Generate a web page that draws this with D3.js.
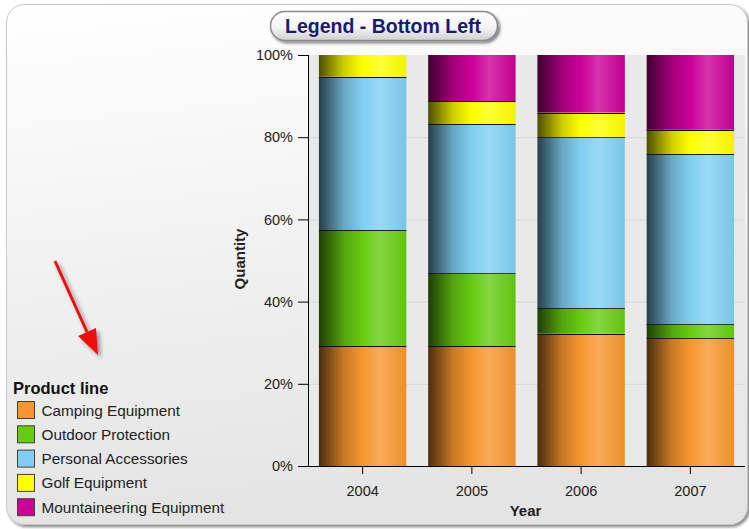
<!DOCTYPE html>
<html>
<head>
<meta charset="utf-8">
<script src="https://cdn.jsdelivr.net/npm/d3@7"></script>
<style>
  body { margin: 0; background: #ffffff; }
  svg { display: block; font-family: "Liberation Sans", Arial, sans-serif; }
</style>
</head>
<body>
<div id="chart"></div>
<script>
const WIDTH = 749, HEIGHT = 529;
const years = ["2004", "2005", "2006", "2007"];
const productLines = ["Camping Equipment", "Outdoor Protection", "Personal Accessories", "Golf Equipment", "Mountaineering Equipment"];
// share of quantity per year, in percent
const camping = [29.2, 29.2, 32.2, 31.1];
const outdoor = [28.2, 17.7, 6.2, 3.4];
const personal = [37.3, 36.3, 41.6, 41.4];
const golf = [5.3, 5.6, 6.0, 5.9];
const mountaineering = [0, 11.2, 14.0, 18.2];
const yTicks = [0, 20, 40, 60, 80, 100];

const seriesValues = [camping, outdoor, personal, golf, mountaineering];
const baseColors = ["#f7962e", "#66cc11", "#80cff2", "#ffff00", "#cc0099"];

const margin = {top: 55, right: 4, bottom: 63, left: 308};
const width = WIDTH - margin.left - margin.right;
const height = HEIGHT - margin.top - margin.bottom;

const svg = d3.select("#chart").append("svg")
    .attr("width", WIDTH)
    .attr("height", HEIGHT);
const defs = svg.append("defs");

// frame background
const bgGrad = defs.append("linearGradient").attr("id", "bg")
    .attr("x1", "0").attr("y1", "0").attr("x2", "0.15").attr("y2", "1");
bgGrad.append("stop").attr("offset", "0%").attr("stop-color", "#ffffff");
bgGrad.append("stop").attr("offset", "100%").attr("stop-color", "#e4e4e4");

const shadow = defs.append("filter").attr("id", "shadow")
    .attr("x", "-10%").attr("y", "-10%").attr("width", "130%").attr("height", "140%");
shadow.append("feGaussianBlur").attr("in", "SourceAlpha").attr("stdDeviation", 1.5);
shadow.append("feOffset").attr("dx", 2).attr("dy", 2).attr("result", "ob");
shadow.append("feComponentTransfer").append("feFuncA").attr("type", "linear").attr("slope", 0.5);
const merge = shadow.append("feMerge");
merge.append("feMergeNode");
merge.append("feMergeNode").attr("in", "SourceGraphic");

svg.append("rect")
    .attr("x", 6.5).attr("y", 4.5)
    .attr("width", 741).attr("height", 520)
    .attr("rx", 18).attr("ry", 18)
    .attr("fill", "url(#bg)")
    .attr("stroke", "#c8c8c8")
    .attr("filter", "url(#shadow)");

// cylinder gradients for bars
seriesValues.forEach(function(s, i) {
  let c = d3.color(baseColors[i]);
  let g = defs.append("linearGradient").attr("id", "bar" + i)
      .attr("x1", "0").attr("x2", "1").attr("y1", "0").attr("y2", "0");
  g.append("stop").attr("offset", "0%").attr("stop-color", d3.interpolateRgb(c, "#000")(0.7));
  g.append("stop").attr("offset", "28%").attr("stop-color", d3.interpolateRgb(c, "#000")(0.2));
  g.append("stop").attr("offset", "50%").attr("stop-color", c.formatHex());
  g.append("stop").attr("offset", "70%").attr("stop-color", d3.interpolateRgb(c, "#fff")(0.2));
  g.append("stop").attr("offset", "100%").attr("stop-color", d3.interpolateRgb(c, "#000")(0.05));
});

const plot = svg.append("g")
    .attr("transform", "translate(" + margin.left + "," + margin.top + ")");

const x = d3.scaleBand().domain(years).range([0, width]).paddingInner(0.2).paddingOuter(0.1);
const y = d3.scaleLinear().domain([0, 100]).range([height, 0]);

// plot background
plot.append("rect")
    .attr("x", 0).attr("y", 0)
    .attr("width", width).attr("height", height)
    .attr("fill", "#e9e9e9");

// grid lines
plot.selectAll(".grid")
    .data(yTicks.slice(1, -1))
  .enter().append("line")
    .attr("x1", 0).attr("x2", width)
    .attr("y1", d => y(d) + 0.5).attr("y2", d => y(d) + 0.5)
    .attr("stroke", "#d6d6d6");

// stacked bars
const rows = years.map(function(yr, j) {
  let row = {year: yr};
  productLines.forEach(function(p, i) { row[p] = seriesValues[i][j]; });
  return row;
});
const stacked = d3.stack().keys(productLines)(rows);

stacked.forEach(function(layer, i) {
  plot.selectAll(".seg" + i)
      .data(layer.filter(d => d[1] - d[0] > 0))
    .enter().append("rect")
      .attr("x", d => x(d.data.year))
      .attr("y", d => y(d[1]))
      .attr("width", x.bandwidth())
      .attr("height", d => y(d[0]) - y(d[1]))
      .attr("fill", "url(#bar" + i + ")");
  // separator line on top of each segment
  plot.selectAll(".sep" + i)
      .data(layer.filter(d => d[1] - d[0] > 0 && d[1] < 99.9))
    .enter().append("line")
      .attr("x1", d => x(d.data.year))
      .attr("x2", d => x(d.data.year) + x.bandwidth())
      .attr("y1", d => Math.round(y(d[1])) + 0.5)
      .attr("y2", d => Math.round(y(d[1])) + 0.5)
      .attr("stroke", "#111")
      .attr("stroke-width", 1.2);
});

// axes
const yAxis = d3.axisLeft(y).tickValues(yTicks).tickFormat(d => d + "%").tickSize(10).tickPadding(5);
const yG = plot.append("g").call(yAxis);
yG.select(".domain").attr("d", "M0.5,0V" + height);
yG.selectAll("text").style("font-size", "14.5px").attr("fill", "#222");

const xAxis = d3.axisBottom(x).tickSize(8).tickPadding(12);
const xG = plot.append("g").attr("transform", "translate(0," + height + ")").call(xAxis);
xG.select(".domain").attr("d", "M0,0.5H" + width);
xG.selectAll("text").style("font-size", "14.5px").attr("fill", "#222");

svg.append("text")
    .attr("x", margin.left + width / 2 - 1)
    .attr("y", 516)
    .attr("text-anchor", "middle")
    .style("font-size", "15px").style("font-weight", "bold")
    .attr("fill", "#222")
    .text("Year");

svg.append("text")
    .attr("transform", "translate(245,259) rotate(-90)")
    .attr("text-anchor", "middle")
    .style("font-size", "15px").style("font-weight", "bold")
    .attr("fill", "#222")
    .text("Quantity");

// title pill
const pillGrad = defs.append("linearGradient").attr("id", "pill")
    .attr("x1", "0").attr("x2", "0").attr("y1", "0").attr("y2", "1");
pillGrad.append("stop").attr("offset", "0%").attr("stop-color", "#ffffff");
pillGrad.append("stop").attr("offset", "55%").attr("stop-color", "#f4f4f4");
pillGrad.append("stop").attr("offset", "100%").attr("stop-color", "#d0d0d0");
svg.append("rect")
    .attr("x", 270.5).attr("y", 11.5)
    .attr("width", 227).attr("height", 29)
    .attr("rx", 14.5).attr("ry", 14.5)
    .attr("fill", "url(#pill)")
    .attr("stroke", "#8a8a8a")
    .attr("stroke-width", 1.5)
    .attr("filter", "url(#shadow)");
svg.append("text")
    .attr("x", 383).attr("y", 33)
    .attr("text-anchor", "middle")
    .style("font-size", "19.5px").style("font-weight", "bold")
    .attr("fill", "#1a1a6e")
    .text("Legend - Bottom Left");

// red arrow
const arrowShadow = defs.append("filter").attr("id", "arrowShadow")
    .attr("x", "-50%").attr("y", "-20%").attr("width", "200%").attr("height", "150%");
arrowShadow.append("feGaussianBlur").attr("in", "SourceAlpha").attr("stdDeviation", 2);
arrowShadow.append("feOffset").attr("dx", 3).attr("dy", 3);
arrowShadow.append("feComponentTransfer").append("feFuncA").attr("type", "linear").attr("slope", 0.4);
const am = arrowShadow.append("feMerge");
am.append("feMergeNode");
am.append("feMergeNode").attr("in", "SourceGraphic");
const arrow = svg.append("g").attr("filter", "url(#arrowShadow)");
arrow.append("line")
    .attr("x1", 55).attr("y1", 261)
    .attr("x2", 87).attr("y2", 332)
    .attr("stroke", "#ee1111").attr("stroke-width", 3);
arrow.append("path")
    .attr("d", "M98,355 L78,336 L96,328 Z")
    .attr("fill", "#ee1111");

// legend
const legend = svg.append("g").attr("transform", "translate(13,0)");
legend.append("text")
    .attr("x", 0).attr("y", 394)
    .style("font-size", "16.5px").style("font-weight", "bold")
    .attr("fill", "#111")
    .text("Product line");
const item = legend.selectAll(".item")
    .data(productLines)
  .enter().append("g")
    .attr("transform", (d, i) => "translate(0," + (401 + i * 24.3) + ")");
item.append("rect")
    .attr("x", 4.5).attr("y", 0.5)
    .attr("width", 17).attr("height", 17)
    .attr("fill", (d, i) => baseColors[i])
    .attr("stroke", "#4a4030");
item.append("text")
    .attr("x", 28.5).attr("y", 14.5)
    .style("font-size", "15.3px")
    .attr("fill", "#222")
    .text(d => d);
</script>
</body>
</html>
